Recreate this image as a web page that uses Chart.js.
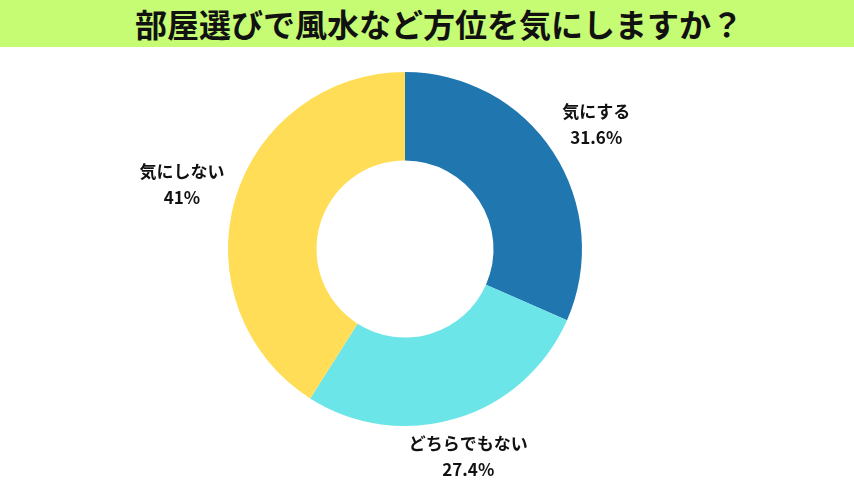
<!DOCTYPE html>
<html>
<head>
<meta charset="utf-8">
<script src="https://cdn.jsdelivr.net/npm/chart.js@4"></script>
<style>
  html, body { margin: 0; padding: 0; background: #fff; }
  body { width: 854px; height: 480px; overflow: hidden; }
  .title {
    height: 47px; line-height: 47px; background: #c6fb74;
    text-align: center; font-family: "Noto Sans CJK JP", sans-serif;
    font-weight: 700; font-size: 32px; color: #111; padding-left: 24px;
  }
  .wrap { width: 854px; height: 433px; position: relative; }
</style>
</head>
<body>
<div class="title">部屋選びで風水など方位を気にしますか？</div>
<div class="wrap"><canvas id="pie"></canvas></div>
<script>
// データ
const labels = ['気にする', 'どちらでもない', '気にしない'];
const values = [31.6, 27.4, 41];
const valueText = ['31.6%', '27.4%', '41%'];
const colors = ['#2077b0', '#6ce5e8', '#ffdd57'];

// 外側ラベル（横方向は少し遠めに置く）
const outerLabels = {
  id: 'outerLabels',
  afterDatasetsDraw(chart) {
    const ctx = chart.ctx;
    const meta = chart.getDatasetMeta(0);
    ctx.save();
    ctx.fillStyle = '#111';
    ctx.textAlign = 'center';
    ctx.textBaseline = 'middle';
    ctx.font = 'bold 17px "Noto Sans CJK JP", sans-serif';
    meta.data.forEach((arc, i) => {
      const mid = (arc.startAngle + arc.endAngle) / 2;
      const c = Math.cos(mid);
      const r = arc.outerRadius * (1.22 + 0.1 * c * c);
      const x = arc.x + c * r;
      const y = arc.y + Math.sin(mid) * r;
      ctx.fillText(labels[i], x, y - 13);
      ctx.fillText(valueText[i], x, y + 13);
    });
    ctx.restore();
  }
};

new Chart(document.getElementById('pie').getContext('2d'), {
  type: 'doughnut',
  data: {
    labels: labels,
    datasets: [{
      data: values,
      backgroundColor: colors,
      borderWidth: 0
    }]
  },
  options: {
    responsive: true,
    maintainAspectRatio: false,
    animation: false,
    cutout: '50%',
    layout: { padding: { top: 25, bottom: 54, left: 0, right: 44 } },
    plugins: {
      legend: { display: false },
      tooltip: { enabled: false }
    }
  },
  plugins: [outerLabels]
});
</script>
</body>
</html>
